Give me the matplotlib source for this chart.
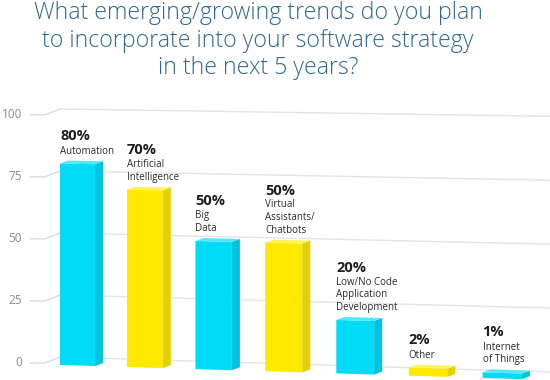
import numpy as np
import matplotlib
matplotlib.use("Agg")
import matplotlib.pyplot as plt
from matplotlib.transforms import Transform

# data
categories = ["Automation", "Artificial\nIntelligence", "Big\nData",
              "Virtual\nAssistants/\nChatbots",
              "Low/No Code\nApplication\nDevelopment",
              "Other", "Internet\nof Things"]
values = [80, 70, 50, 50, 20, 2, 1]
value_labels = ["80%", "70%", "50%", "50%", "20%", "2%", "1%"]
y_ticks = [0, 25, 50, 75, 100]
title = ("What emerging/growing trends do you plan\n"
         "to incorporate into your software strategy\n"
         "in the next 5 years?")

# (front, side, top) face colours
CYAN = ("#00DBF7", "#00C3E1", "#4FE7FA")
YELLOW = ("#FFE900", "#E4D000", "#FFF25C")
bar_colors = [CYAN, YELLOW, CYAN, YELLOW, CYAN, YELLOW, CYAN]

FONT = "Open Sans"
XCURVE = 0.0102     # bars spread out a little towards the right
GROW = 0.00422      # wall gets a bit taller towards the right
DROP = 0.822        # floor line slopes down towards the right
BAR_W = 0.525
SIDE_DX, SIDE_DY = 0.12, 1.2    # depth of the fake 3D side face
FRONT_SHIFT = -2.0  # bars stand slightly in front of the wall
BASE_DROP = 1.2
SIDE_WALL = -2.2    # offset of the little left-hand ticks


class Perspective(Transform):
    """Fake 3D wall: values drift down and grow a little to the right."""
    input_dims = output_dims = 2

    def __init__(self, shift=0.0):
        super().__init__()
        self.shift = shift

    def transform_non_affine(self, values):
        xy = np.asarray(values, dtype=float)
        x = xy[:, 0] + XCURVE * xy[:, 0] ** 2
        y = xy[:, 1] * (1 + GROW * x) - DROP * x + self.shift
        return np.column_stack([x, y])


fig = plt.figure(figsize=(5.5, 3.8), dpi=100)
ax = fig.add_axes([0, 0, 1, 1])
ax.axis("off")

wall = Perspective()
front = Perspective(FRONT_SHIFT)
wall_trf = wall + ax.transData
front_trf = front + ax.transData

# gridlines on the back wall + little side-wall ticks on the left
x_wall0, x_wall1 = -0.263, 7.0
for v in y_ticks:
    ax.plot([x_wall0, x_wall1], [v, v], transform=wall_trf,
            color="#E4E4E4", lw=1.0, zorder=1)
    corner = wall.transform([[x_wall0, v]])[0]
    ax.plot([-0.712, -0.487, corner[0]], [v + SIDE_WALL, v + SIDE_WALL, corner[1]],
            color="#D3DDE4", lw=1.0, zorder=1)
    ax.text(-0.83, v + SIDE_WALL, str(v), ha="right", va="center",
            fontsize=8.5, color="#8A8A8A", family=FONT)

# bars: front faces through the perspective transform
xpos = np.arange(len(values))
heights = np.array(values, dtype=float) + BASE_DROP
ax.bar(xpos, heights, bottom=-BASE_DROP, width=BAR_W,
       color=[c[0] for c in bar_colors], transform=front_trf, zorder=3)

# side and top faces
for x, v, cols in zip(xpos, values, bar_colors):
    xl, xr = x - BAR_W / 2, x + BAR_W / 2
    bl, br, tr, tl = front.transform([[xl, -BASE_DROP], [xr, -BASE_DROP],
                                      [xr, v], [xl, v]])
    d = np.array([SIDE_DX, SIDE_DY])
    ax.fill(*np.array([br, tr, tr + d, br + d]).T, color=cols[1], lw=0, zorder=3)
    ax.fill(*np.array([tl, tr, tr + d, tl + d]).T, color=cols[2], lw=0, zorder=3)

# labels above bars (multi-line text is anchored on its last baseline)
for x, v, name, pct in zip(xpos, values, categories, value_labels):
    n = name.count("\n") + 1
    ax.annotate(name, xy=(x - BAR_W / 2, v), xycoords=front_trf,
                xytext=(0, 10), textcoords="offset pixels",
                ha="left", va="baseline", fontsize=7, color="#2A2A2A",
                family=FONT, linespacing=1.2)
    ax.annotate(pct, xy=(x - BAR_W / 2, v), xycoords=front_trf,
                xytext=(0, 24 + (n - 1) * 12), textcoords="offset pixels",
                ha="left", va="baseline", fontsize=10.5, fontweight="bold",
                color="#1E1E1E", family=FONT)

fig.text(0.469, 0.997, title, ha="center", va="top", fontsize=16.7,
         color="#2E6890", family=FONT, fontweight="light", linespacing=1.2)

ax.set_xlim(-1.162, 7.084)
ax.set_ylim(-9.049, 144.01)

fig.savefig("out.png", dpi=100)
